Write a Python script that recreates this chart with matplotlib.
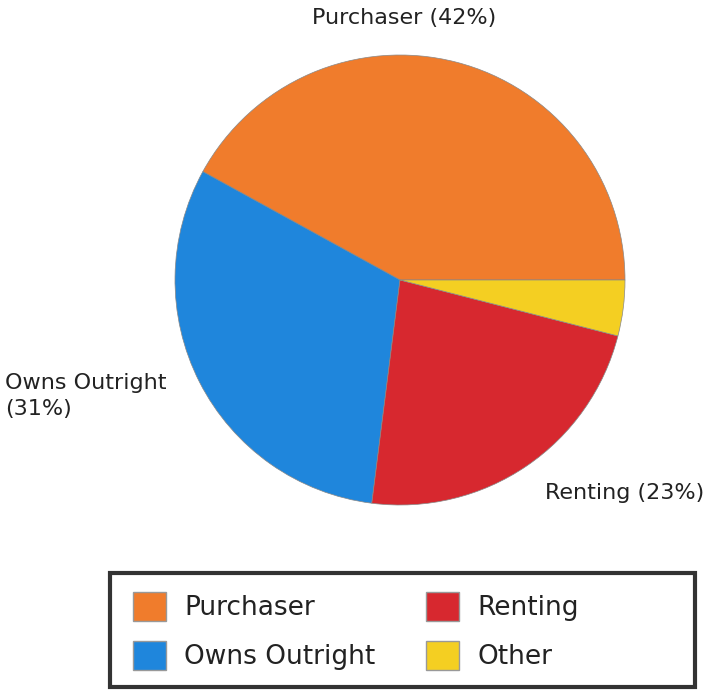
import matplotlib.pyplot as plt
from matplotlib.patches import Patch, Rectangle

# Data
categories = ['Purchaser', 'Owns Outright', 'Renting', 'Other']
shares = [42, 31, 23, 4]
colors = ['#F07C2C', '#1F86DC', '#D7282F', '#F4CF22']

W, H = 711, 691
fig = plt.figure(figsize=(W / 100, H / 100), dpi=100)

# Pie axes placed in pixel terms: centre (400, 280), radius 225
cx, cy, r = 400, 280, 225
ax = fig.add_axes([(cx - r) / W, (H - cy - r) / H, 2 * r / W, 2 * r / H])
ax.pie(shares, colors=colors, startangle=0, counterclock=True,
       wedgeprops=dict(linewidth=0.5, edgecolor='#888888'))
ax.set_xlim(-1, 1)
ax.set_ylim(-1, 1)
ax.set_aspect('equal')

# Slice labels (no label for Other)
txt = dict(fontsize=16, color='#222222', family='DejaVu Sans')
fig.text(404 / W, 1 - 18 / H, 'Purchaser (42%)', ha='center', va='center', **txt)
fig.text(5 / W, 1 - 396 / H, 'Owns Outright\n(31%)', ha='left', va='center',
         linespacing=1.4, **txt)
fig.text(545 / W, 1 - 493 / H, 'Renting (23%)', ha='left', va='center', **txt)

# Legend entries (frame drawn separately as a box)
handles = [Patch(facecolor=c, edgecolor='#999999', label=l) for c, l in zip(colors, categories)]
leg = fig.legend(handles=handles, ncol=2, loc='upper left',
                 bbox_to_anchor=(133 / W, 1 - 592 / H),
                 fontsize=19, frameon=False, borderpad=0, borderaxespad=0,
                 handlelength=1.25, handleheight=1.3, handletextpad=0.7,
                 columnspacing=1.9, labelspacing=0.75)
for t in leg.get_texts():
    t.set_color('#222222')

box = Rectangle((110 / W, 1 - 687 / H), 585 / W, 114 / H, transform=fig.transFigure,
                fill=False, edgecolor='#333333', linewidth=3)
fig.add_artist(box)

fig.savefig('out.png', dpi=100)
